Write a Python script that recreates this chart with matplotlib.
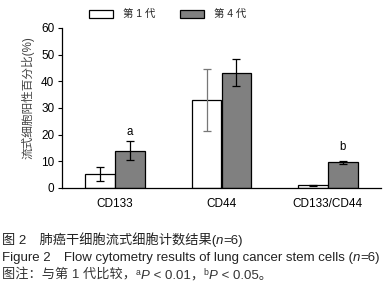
import matplotlib
matplotlib.use("Agg")
import matplotlib.pyplot as plt
from matplotlib.patches import Rectangle
import numpy as np

plt.rcParams['font.family'] = ['Liberation Sans', 'Noto Sans CJK SC', 'DejaVu Sans']

categories = ["CD133", "CD44", "CD133/CD44"]
gen1 = [5.2, 33.0, 1.0]
gen1_err = [2.6, 11.5, 0.3]
gen4 = [14.0, 43.3, 9.6]
gen4_err = [3.6, 5.0, 0.7]
series_labels = ["第 1 代", "第 4 代"]
sig_labels = ["a", "", "b"]
sig_y = [21.0, 0, 15.4]
yticks = [0, 10, 20, 30, 40, 50, 60]

W, H = 389, 301
fig = plt.figure(figsize=(W/100, H/100), dpi=100)
ax = fig.add_axes([62/W, 1-188/H, (381-62)/W, (188-28)/H])

GRAY = "#808080"
x = np.arange(len(categories))
bw = 0.28
ax.bar(x - bw/2, gen1, bw, color="white", edgecolor="black", linewidth=0.9, zorder=2)
ax.bar(x + bw/2, gen4, bw, color=GRAY, edgecolor="black", linewidth=0.9, zorder=2)
err_cols1 = ["black", "#777777", "black"]
for i in range(len(categories)):
    ax.errorbar(x[i] - bw/2, gen1[i], yerr=gen1_err[i], fmt="none", ecolor=err_cols1[i],
                elinewidth=0.9, capsize=3, capthick=0.9, zorder=3)
    ax.errorbar(x[i] + bw/2, gen4[i], yerr=gen4_err[i], fmt="none", ecolor="black",
                elinewidth=0.9, capsize=3, capthick=0.9, zorder=3)
    if sig_labels[i]:
        ax.text(x[i] + bw/2, sig_y[i], sig_labels[i], ha="center",
                va="center", fontsize=8.3, color="black")

ax.set_xlim(-0.5, 2.5)
ax.set_ylim(0, 60)
ax.set_yticks(yticks)
ax.set_xticks(x)
ax.set_xticklabels(categories, fontsize=8.5)
ax.tick_params(axis="x", length=0, pad=7)
ax.tick_params(axis="y", length=3, width=0.8, direction="out", labelsize=8.5, pad=2.5)
for s in ["top", "right"]:
    ax.spines[s].set_visible(False)
for s in ["left", "bottom"]:
    ax.spines[s].set_linewidth(0.9)
ax.set_ylabel("流式细胞阳性百分比(%)", fontsize=8.4, color="#444444")
ax.yaxis.set_label_coords((28-62)/319, (188-98)/160)
ax.yaxis.label.set_va("center")

# legend (manual, in pixel positions)
leg_boxes = [(89, "white"), (180, GRAY)]
for (bx, fc), lab in zip(leg_boxes, series_labels):
    fig.patches.append(Rectangle((bx/W, 1-17.5/H), 24/W, 8/H, transform=fig.transFigure,
                                 facecolor=fc, edgecolor="black", linewidth=0.9))
    fig.text((bx+34)/W, 1-13.5/H, lab, fontsize=7.5, va="center", ha="left", color="#222222")

# captions with rich text
fig.canvas.draw()
renderer = fig.canvas.get_renderer()

def rich(xpx, ypx, segments, size=9.5, color="#222222"):
    cur = xpx
    for seg, style in segments:
        fs = size * style.get("scale", 1.0)
        dy = style.get("dy", 0)
        t = fig.text(cur/W, 1-(ypx - dy)/H, seg, fontsize=fs, color=color,
                     fontstyle=style.get("style", "normal"), va="baseline", ha="left")
        bb = t.get_window_extent(renderer=renderer)
        cur += bb.width

N = {}
I = {"style": "italic"}
SUP = {"scale": 0.65, "dy": 4}
rich(2, 244, [("图 2　肺癌干细胞流式细胞计数结果(", N), ("n", I), ("=6)", N)])
rich(2, 261, [("Figure 2　Flow cytometry results of lung cancer stem cells (", N), ("n", I), ("=6)", N)])
rich(2, 279, [("图注：与第 1 代比较，", N), ("a", SUP), ("P", I), (" < 0.01，", N),
              ("b", SUP), ("P", I), (" < 0.05。", N)], color="#333333")

fig.savefig("out.png", dpi=100)
